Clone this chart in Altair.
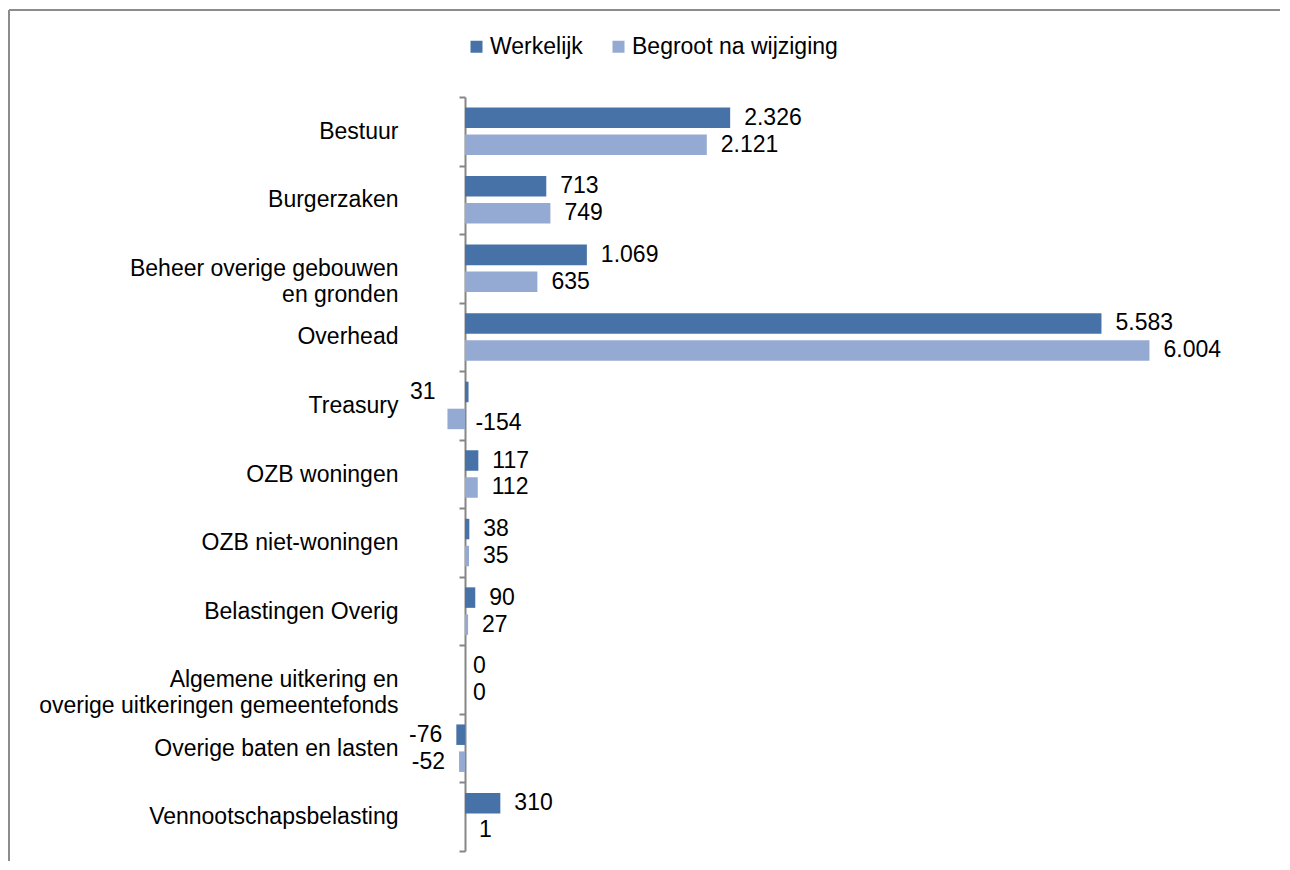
import altair as alt
import pandas as pd

categories = [
    "Bestuur",
    "Burgerzaken",
    "Beheer overige gebouwen|en gronden",
    "Overhead",
    "Treasury",
    "OZB woningen",
    "OZB niet-woningen",
    "Belastingen Overig",
    "Algemene uitkering en|overige uitkeringen gemeentefonds",
    "Overige baten en lasten",
    "Vennootschapsbelasting",
]
series_names = ["Werkelijk", "Begroot na wijziging"]
werkelijk = [2326, 713, 1069, 5583, 31, 117, 38, 90, 0, -76, 310]
begroot = [2121, 749, 635, 6004, -154, 112, 35, 27, 0, -52, 1]
colors = ["#4672A7", "#95AAD2"]

rows = []
for c, w, b in zip(categories, werkelijk, begroot):
    rows.append({"category": c, "series": series_names[0], "value": w})
    rows.append({"category": c, "series": series_names[1], "value": b})
df = pd.DataFrame(rows)

FONT = "Liberation Sans"
FS = 23

y_enc = alt.Y(
    "category:N",
    sort=categories,
    scale=alt.Scale(paddingInner=0, paddingOuter=0),
    axis=alt.Axis(
        title=None,
        tickBand="extent",
        tickSize=6,
        tickColor="#868686",
        tickWidth=2,
        domainColor="#868686",
        domainWidth=2,
        labelPadding=61,
        labelFont=FONT,
        labelFontSize=FS,
        labelColor="#000000",
        labelLineHeight=26,
        labelExpr="split(datum.label, '|')",
        labelLimit=0,
    ),
)
yoff_enc = alt.YOffset(
    "series:N",
    sort=series_names,
    scale=alt.Scale(paddingInner=0.24, paddingOuter=0.39),
)
x_enc = alt.X(
    "value:Q",
    scale=alt.Scale(domain=[0, 7000], nice=False, zero=False),
    axis=None,
)

base = alt.Chart(df).encode(y=y_enc, yOffset=yoff_enc)

bars = base.mark_bar().encode(
    x=x_enc,
    color=alt.Color(
        "series:N",
        sort=series_names,
        scale=alt.Scale(domain=series_names, range=colors),
        legend=alt.Legend(
            title=None,
            orient="none",
            direction="horizontal",
            legendX=0,
            legendY=-62,
            symbolType="square",
            symbolSize=144,
            symbolStrokeWidth=0,
            labelFont=FONT,
            labelFontSize=FS,
            labelColor="#000000",
            labelOffset=2,
            columnPadding=24,
            padding=0,
            labelLimit=0,
        ),
    ),
)

lab = base.transform_calculate(
    label="replace(replace(format(datum.value, ','), ',', '.'), '\u2212', '-')"
)
special = "datum.category == 'Treasury'"
txt = dict(baseline="middle", font=FONT, fontSize=FS, color="#000000")

pos_text = lab.transform_filter(
    f"datum.value > 0 && !({special})"
).mark_text(align="left", dx=14, **txt).encode(x=x_enc, text="label:N")
zero_text = lab.transform_filter(
    f"datum.value == 0 && !({special})"
).mark_text(align="left", dx=8, **txt).encode(x=x_enc, text="label:N")
neg_text = lab.transform_filter(
    f"datum.value < 0 && !({special})"
).mark_text(align="right", dx=-14, **txt).encode(x=x_enc, text="label:N")
tr_w = lab.transform_filter(
    f"{special} && datum.series == 'Werkelijk'"
).mark_text(align="right", dx=-33, **txt).encode(x=x_enc, text="label:N")
tr_b = lab.transform_filter(
    f"{special} && datum.series != 'Werkelijk'"
).mark_text(align="left", dx=28, dy=4, **txt).encode(x=x_enc, text="label:N")

border_top = alt.Chart(pd.DataFrame({"k": [0]})).mark_rule(color="#8C8C8C", strokeWidth=2).encode(
    x=alt.value(-456), x2=alt.value(900), y=alt.value(-87)
)
border_left = alt.Chart(pd.DataFrame({"k": [0]})).mark_rule(color="#8C8C8C", strokeWidth=2).encode(
    x=alt.value(-456), y=alt.value(-87), y2=alt.value(800)
)

chart = alt.layer(
    border_top, border_left, bars, pos_text, zero_text, neg_text, tr_w, tr_b
).properties(
    width=798,
    height=754,
    autosize=alt.AutoSizeParams(type="none"),
    padding={"left": 457, "top": 89, "right": 17, "bottom": 10},
    background="#FFFFFF",
).configure_view(stroke=None)

chart.save("out.html", embed_options={"renderer": "svg", "actions": False})
